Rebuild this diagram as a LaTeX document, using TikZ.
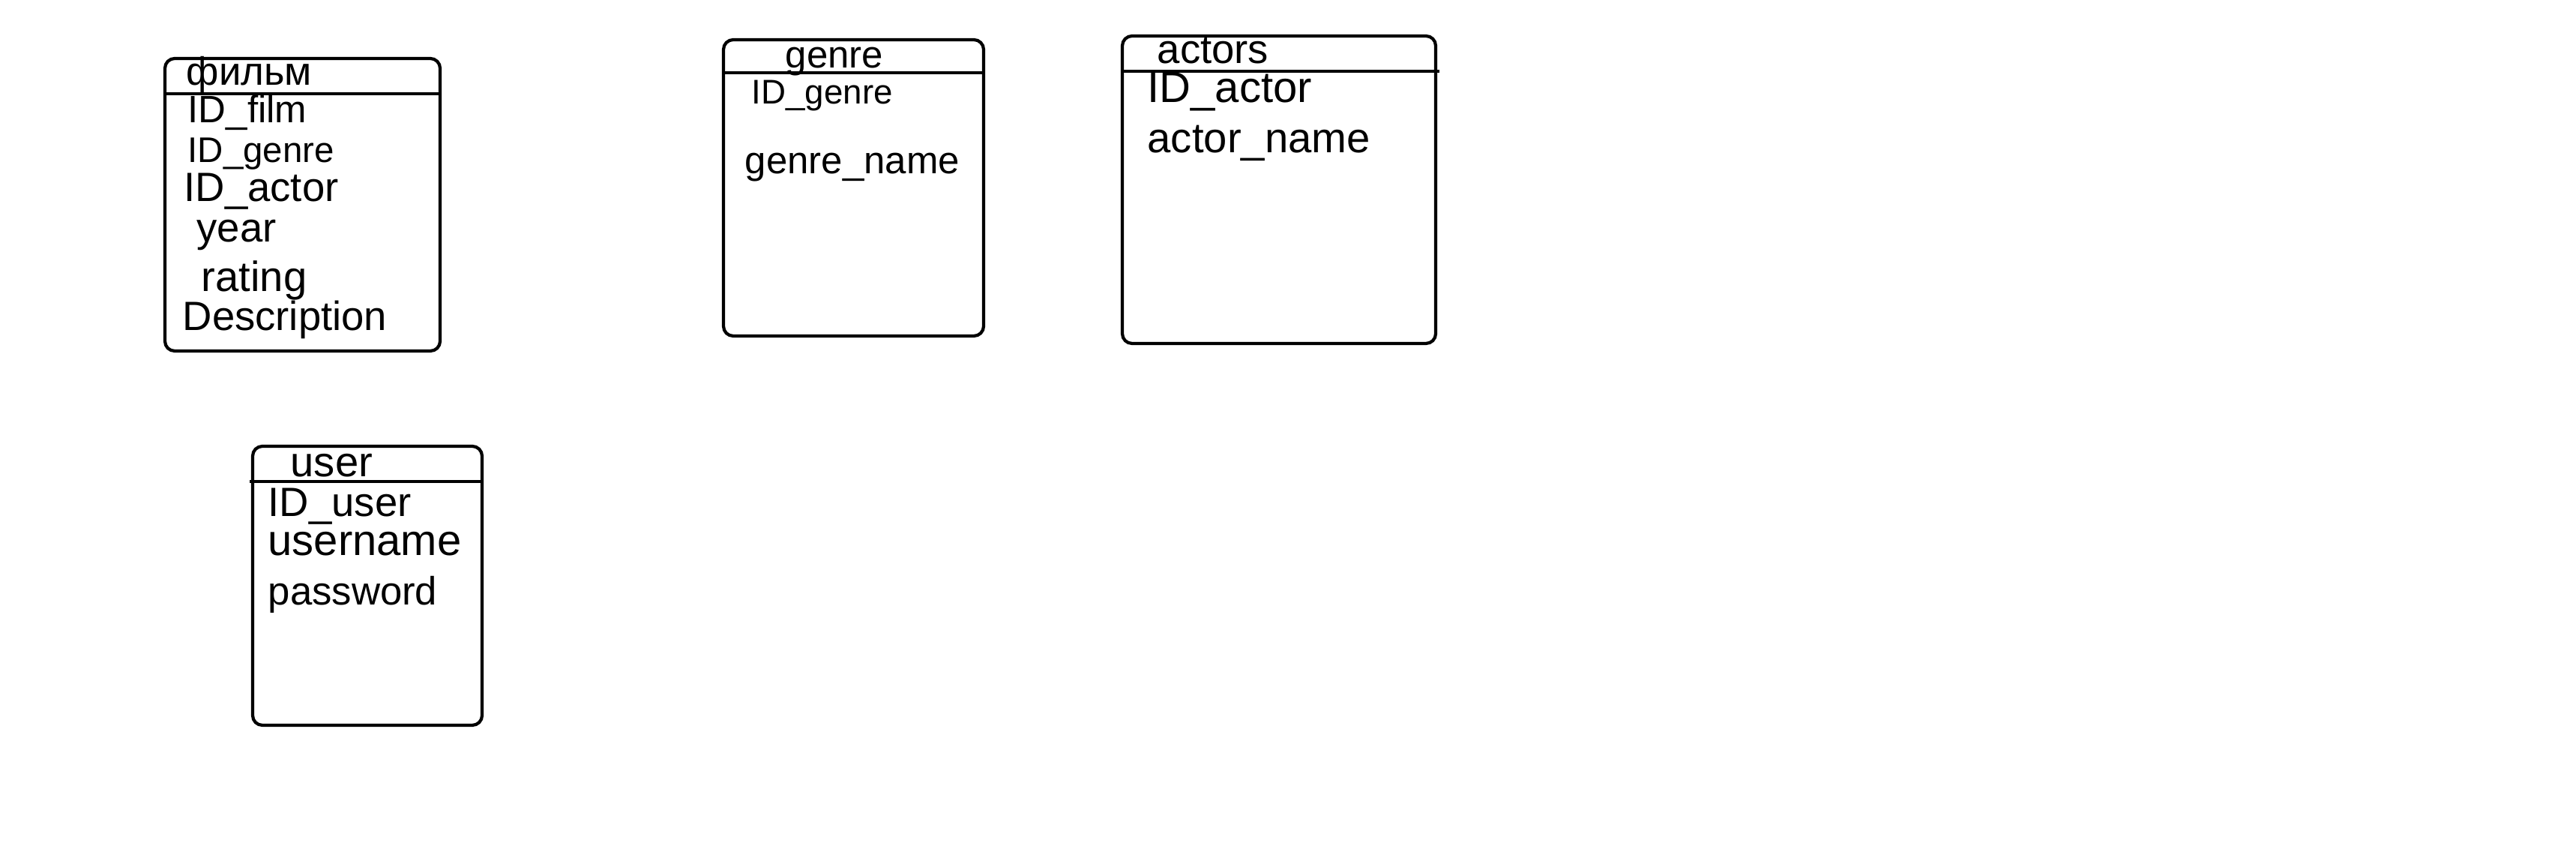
\documentclass[tikz,border=0pt]{standalone}
\usepackage{fontspec}
\setmainfont{Liberation Sans}
\begin{document}
\begin{tikzpicture}[
    tbl/.style={draw,line width=1.2pt,rounded corners=0.13cm},
    hdr/.style={line width=1.2pt},
    fld/.style={anchor=west,inner sep=0pt,text height=0.7em,text depth=0.2em,
        font=\fontsize{#1}{#1}\selectfont},
    fld/.default=15,
]
    \useasboundingbox (0,0) rectangle (34.36,-11.56);

    \draw[tbl] (2.20,-0.78) rectangle (5.87,-4.68);
    \draw[hdr] (2.20,-1.25) -- (5.87,-1.25);
    \node[fld=15] (F) at (2.48,-1.05) {фильм};
    \node[fld=14.5] (F1) at (2.50,-1.55) {ID\_film};
    \node[fld=13.5] (F2) at (2.50,-2.08) {ID\_genre};
    \node[fld=15.5] (F3) at (2.45,-2.60) {ID\_actor};
    \node[fld=15.5] (F4) at (2.62,-3.14) {year};
    \node[fld=16] (F5) at (2.68,-3.80) {rating};
    \node[fld=15.5] (F6) at (2.43,-4.32) {Description};

    \draw[tbl] (9.65,-0.53) rectangle (13.12,-4.48);
    \draw[hdr] (9.65,-0.97) -- (13.12,-0.97);
    \node[fld=14.5] (G) at (10.47,-0.82) {genre};
    \node[fld=13] (G1) at (10.02,-1.30) {ID\_genre};
    \node[fld=14.5] (G2) at (9.93,-2.23) {genre\_name};

    \draw[tbl] (14.97,-0.48) rectangle (19.15,-4.58);
    \draw[hdr] (14.97,-0.95) -- (19.20,-0.95);
    \node[fld=15.5] (A) at (15.43,-0.76) {actors};
    \node[fld=16.5] (A1) at (15.30,-1.28) {ID\_actor};
    \node[fld=16] (A2) at (15.30,-1.95) {actor\_name};

    \draw[tbl] (3.37,-5.95) rectangle (6.43,-9.67);
    \draw[hdr] (3.33,-6.42) -- (6.43,-6.42);
    \node[fld=16] (U) at (3.87,-6.27) {user};
    \node[fld=15.5] (U1) at (3.57,-6.80) {ID\_user};
    \node[fld=16.5] (U2) at (3.57,-7.32) {username};
    \node[fld=15] (U3) at (3.57,-7.98) {password};
\end{tikzpicture}
\end{document}
